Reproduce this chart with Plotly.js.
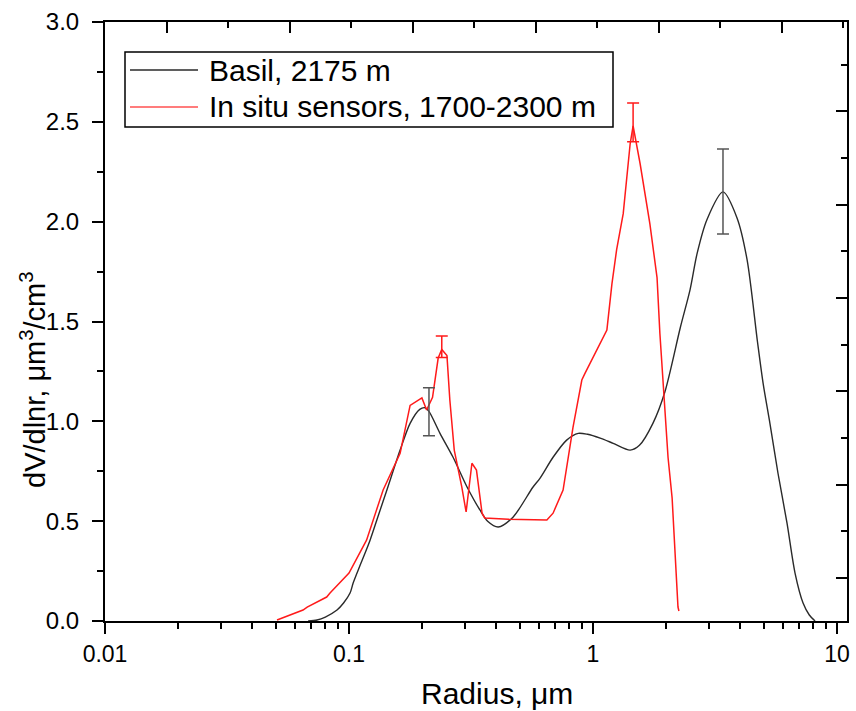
<!DOCTYPE html>
<html>
<head>
<meta charset="utf-8">
<script src="https://cdn.plot.ly/plotly-3.0.1.min.js"></script>
<style>html,body{margin:0;padding:0;background:#fff}#chart{width:856px;height:711px}</style>
</head>
<body>
<div id="chart"></div>
<script>
// Basil, 2175 m
const basilR = [0.068,0.074,0.080,0.0893,0.095,0.101,0.104,0.112,0.122,0.132,0.143,0.162,0.178,0.195,0.205,0.2127,0.236,0.267,0.305,0.344,0.37,0.409,0.47,0.567,0.607,0.686,0.78,0.87,0.95,1.07,1.21,1.42,1.55,1.76,1.97,2.28,2.5,2.67,2.93,3.41,3.89,4.28,4.72,4.98,5.31,5.73,6.24,6.73,7.26,7.7,8.13];
const basilV = [0.0,0.005,0.02,0.055,0.09,0.14,0.19,0.29,0.405,0.53,0.656,0.856,0.99,1.06,1.068,1.05,0.94,0.82,0.67,0.556,0.50,0.471,0.52,0.67,0.716,0.82,0.906,0.94,0.935,0.916,0.89,0.856,0.88,0.99,1.147,1.47,1.66,1.84,2.01,2.149,2.02,1.81,1.40,1.19,0.99,0.74,0.49,0.24,0.09,0.03,0.0];
// In situ sensors, 1700-2300 m
const insituR = [0.0507,0.0648,0.0674,0.081,0.0836,0.1,0.118,0.138,0.162,0.178,0.199,0.208,0.22,0.232,0.24,0.252,0.259,0.27,0.29,0.302,0.319,0.333,0.351,0.36,0.45,0.647,0.686,0.754,0.828,0.9,0.927,1.14,1.196,1.25,1.33,1.42,1.46,1.56,1.71,1.83,1.88,2.03,2.11,2.17,2.2,2.23,2.25];
const insituV = [0.005,0.055,0.07,0.12,0.14,0.24,0.405,0.656,0.84,1.08,1.117,1.057,1.12,1.317,1.36,1.33,1.107,0.856,0.67,0.546,0.79,0.756,0.54,0.516,0.51,0.506,0.54,0.656,0.97,1.207,1.24,1.457,1.69,1.86,2.04,2.39,2.48,2.29,1.99,1.72,1.44,0.82,0.616,0.305,0.205,0.07,0.05];
// error bars
const basilErrR = [0.2127, 3.41];
const basilErrV = [1.048, 2.149];
const basilErrPlus = [0.12, 0.215];
const basilErrMinus = [0.12, 0.211];
const insituErrR = [0.24, 1.46];
const insituErrV = [1.36, 2.49];
const insituErrPlus = [0.067, 0.104];
const insituErrMinus = [0.04, 0.09];
// ticks and labels
const xTickVals = [0.01, 0.1, 1, 10];
const xTickText = ['0.01', '0.1', '1', '10'];
const seriesNames = ['Basil, 2175 m', 'In situ sensors, 1700-2300 m'];
const seriesColors = ['#2a2a2a', '#ff1a1a'];
const xTitle = 'Radius, \u03bcm';
const yTitle = 'dV/dlnr, \u03bcm<sup>3</sup>/cm<sup>3</sup>';

const FONT = 'Arial, "Liberation Sans", sans-serif';
const minorX = [];
[0.01, 0.1, 1].forEach(d => { for (let k = 2; k <= 9; k++) minorX.push(d * k); });

const traces = [
  {x: basilR, y: basilV, mode: 'lines', name: seriesNames[0],
   line: {color: seriesColors[0], width: 1.4, shape: 'spline', smoothing: 0.8}},
  {x: insituR, y: insituV, mode: 'lines', name: seriesNames[1],
   line: {color: seriesColors[1], width: 1.5}},
  {x: basilErrR, y: basilErrV, mode: 'markers', hoverinfo: 'skip',
   marker: {size: 2, opacity: 0},
   error_y: {type: 'data', symmetric: false, array: basilErrPlus, arrayminus: basilErrMinus,
             color: '#555555', thickness: 1.5, width: 6}},
  {x: insituErrR, y: insituErrV, mode: 'markers', hoverinfo: 'skip',
   marker: {size: 2, opacity: 0},
   error_y: {type: 'data', symmetric: false, array: insituErrPlus, arrayminus: insituErrMinus,
             color: '#ff1a1a', thickness: 1.5, width: 6}},
  {x: [], y: [], xaxis: 'x2', yaxis: 'y2', hoverinfo: 'skip', mode: 'lines'}
];

// legend drawn in paper coordinates (plot area: 742 x 599 px)
const PW = 742, PH = 599;
const px2x = p => (p - 105) / PW;
const px2y = p => (621 - p) / PH;
const legendRowsY = [70, 107];

const shapes = [
  {type: 'rect', xref: 'paper', yref: 'paper', x0: px2x(125), x1: px2x(613), y0: px2y(127), y1: px2y(52),
   line: {color: '#000', width: 1.5}, fillcolor: '#fff', layer: 'above'}
];
const annotations = [];
seriesNames.forEach((nm, i) => {
  shapes.push({type: 'line', xref: 'paper', yref: 'paper', x0: px2x(130), x1: px2x(198),
               y0: px2y(legendRowsY[i]), y1: px2y(legendRowsY[i]),
               line: {color: i === 0 ? '#2a2a2a' : '#ff5050', width: 1.5}, layer: 'above'});
  annotations.push({xref: 'paper', yref: 'paper', x: px2x(207), y: px2y(legendRowsY[i]),
                    xanchor: 'left', yanchor: 'middle', showarrow: false, text: nm,
                    font: {family: FONT, size: 30, color: '#000'}});
});
annotations.push({xref: 'paper', yref: 'paper', x: px2x(497), y: px2y(693),
                  xanchor: 'center', yanchor: 'middle', showarrow: false, text: xTitle,
                  font: {family: FONT, size: 30, color: '#000'}});
annotations.push({xref: 'paper', yref: 'paper', x: px2x(33), y: px2y(380), textangle: -90,
                  xanchor: 'center', yanchor: 'middle', showarrow: false, text: yTitle,
                  font: {family: FONT, size: 29, color: '#000'}});

const xr = [-2, 1.041];
const layout = {
  width: 856, height: 711,
  margin: {l: 105, r: 9, t: 22, b: 90},
  paper_bgcolor: '#fff', plot_bgcolor: '#fff',
  font: {family: FONT, color: '#000', size: 23},
  showlegend: false,
  shapes: shapes,
  annotations: annotations,
  xaxis: {type: 'log', range: xr, showgrid: false, zeroline: false,
          showline: true, linecolor: '#000', linewidth: 2,
          ticks: 'outside', ticklen: 11, tickwidth: 2, tickcolor: '#000',
          tickmode: 'array', tickvals: xTickVals, ticktext: xTickText,
          tickfont: {size: 23, family: FONT}, ticklabelstandoff: 0,
          minor: {tickmode: 'array', tickvals: minorX, ticks: 'outside', ticklen: 6, tickwidth: 2, tickcolor: '#000', showgrid: false}},
  yaxis: {range: [0, 3], showgrid: false, zeroline: false,
          showline: true, linecolor: '#000', linewidth: 2,
          ticks: 'outside', ticklen: 11, tickwidth: 2, tickcolor: '#000',
          dtick: 0.5, tick0: 0, tickformat: '.1f',
          tickfont: {size: 24, family: FONT}, ticklabelstandoff: 8,
          minor: {dtick: 0.25, ticks: 'outside', ticklen: 6, tickwidth: 2, tickcolor: '#000', showgrid: false}},
  // top frame axis: evenly spaced inside ticks (unlabelled)
  xaxis2: {range: [0, 12.065], overlaying: 'x', side: 'top', anchor: 'y',
           showgrid: false, zeroline: false, showline: true, linecolor: '#000', linewidth: 2,
           ticks: 'inside', ticklen: 11, tickwidth: 2, tickcolor: '#000',
           tick0: 1, dtick: 2, showticklabels: false,
           minor: {tick0: 0, dtick: 1, ticks: 'inside', ticklen: 6, tickwidth: 2, tickcolor: '#000', showgrid: false}},
  // right frame axis: inside ticks (unlabelled)
  yaxis2: {range: [0, 6.42], overlaying: 'y', side: 'right', anchor: 'x',
           showgrid: false, zeroline: false, showline: true, linecolor: '#000', linewidth: 2,
           ticks: 'inside', ticklen: 11, tickwidth: 2, tickcolor: '#000',
           tick0: 0.461, dtick: 1, showticklabels: false,
           minor: {tick0: 0.461, dtick: 0.5, ticks: 'inside', ticklen: 6, tickwidth: 2, tickcolor: '#000', showgrid: false}}
};

Plotly.newPlot('chart', traces, layout, {displayModeBar: false, staticPlot: true});
</script>
</body>
</html>
